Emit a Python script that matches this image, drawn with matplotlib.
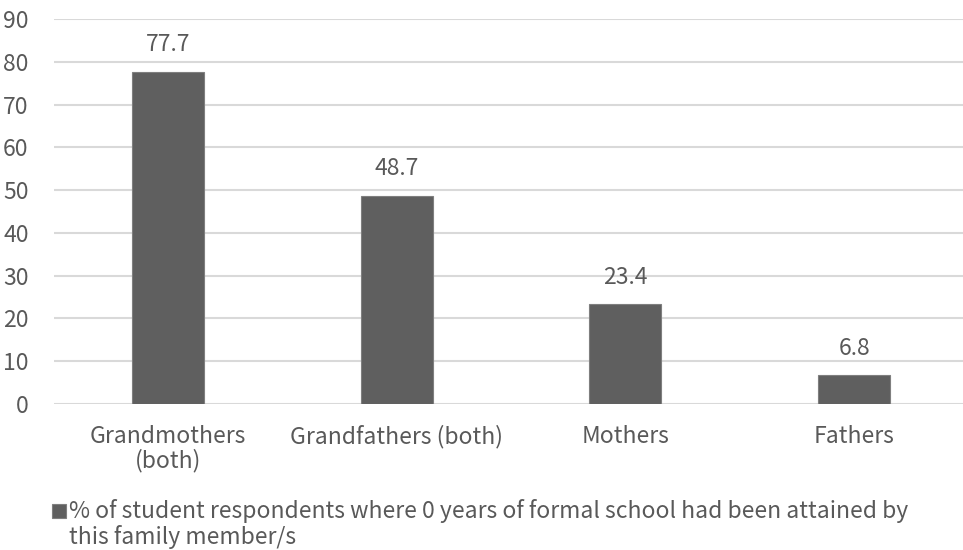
import matplotlib
matplotlib.use('Agg')
import matplotlib.pyplot as plt
from matplotlib.patches import Rectangle

plt.rcParams['font.family'] = ['Noto Sans CJK SC', 'DejaVu Sans']

# data
categories = ['Grandmothers\n(both)', 'Grandfathers (both)', 'Mothers', 'Fathers']
values = [77.7, 48.7, 23.4, 6.8]
series_label = '% of student respondents where 0 years of formal school had been attained by'
series_label2 = 'this family member/s'
yticks = list(range(0, 100, 10))

TEXT = '#595959'
BAR = '#5f5f5f'
GRID = '#d9d9d9'
FS = 16.5

fig = plt.figure(figsize=(9.63, 5.5), dpi=100)
ax = fig.add_axes([0.0557, 0.2655, 0.950, 0.70])

x = list(range(len(categories)))
bars = ax.bar(x, values, width=0.315, color=BAR, edgecolor='#7f7f7f', linewidth=0.8,
              zorder=3)
ax.bar_label(bars, labels=[f'{v:.1f}' for v in values], padding=11,
             fontsize=FS, color=TEXT)

ax.set_ylim(0, 90)
ax.set_xlim(-0.5, len(categories) - 0.5)
ax.set_yticks(yticks)
ax.set_xticks(x)
ax.set_xticklabels(categories, fontsize=FS, color=TEXT, linespacing=1.05)
ax.tick_params(axis='y', labelsize=FS, labelcolor=TEXT, length=0, pad=18)
ax.tick_params(axis='x', length=0, pad=15)

ax.grid(axis='y', color=GRID, linewidth=1.5, zorder=0)
for s in ax.spines.values():
    s.set_visible(False)

# legend at bottom
fig.patches.append(Rectangle((52 / 963, 1 - 518 / 550), 14 / 963, 14 / 550,
                             transform=fig.transFigure, facecolor=BAR,
                             edgecolor='#7f7f7f', linewidth=0.8))
fig.text(69 / 963, 1 - 511 / 550, series_label, fontsize=FS, color=TEXT,
         va='center', ha='left')
fig.text(69 / 963, 1 - 537 / 550, series_label2, fontsize=FS, color=TEXT,
         va='center', ha='left')

fig.savefig('out.png', dpi=100, facecolor='white')
